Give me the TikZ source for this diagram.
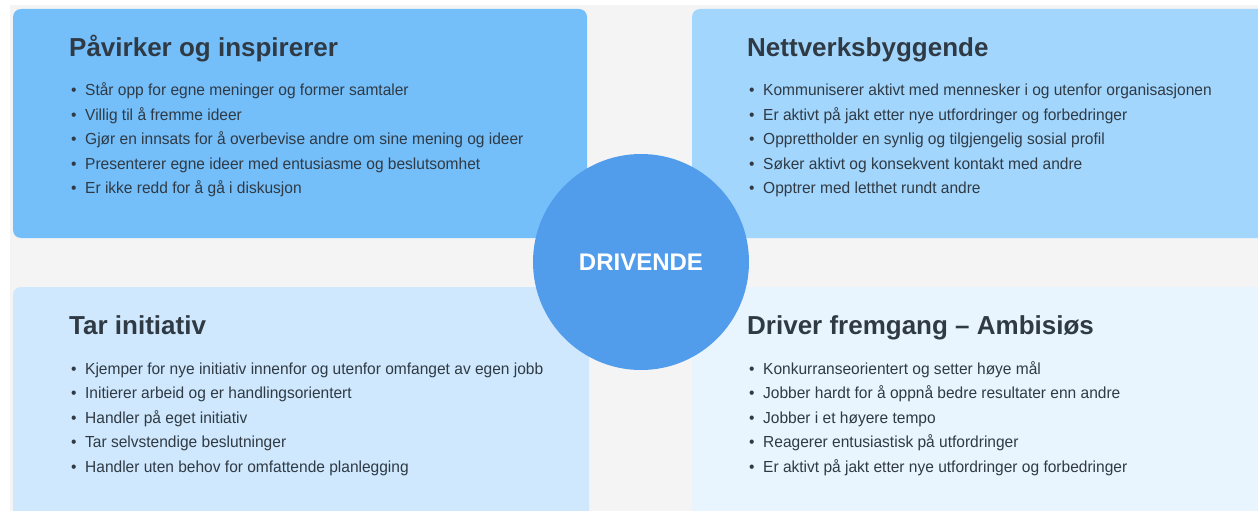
\documentclass[tikz,border=0pt]{standalone}
\usepackage{fontspec}
\setmainfont{Liberation Sans}
\newfontfamily\itemfont{Liberation Sans}[FakeStretch=0.97]
\usetikzlibrary{positioning}

\definecolor{bgGrey}{HTML}{F4F4F4}
\definecolor{tlBlue}{HTML}{74BEFA}
\definecolor{trBlue}{HTML}{A3D6FD}
\definecolor{blBlue}{HTML}{CFE8FD}
\definecolor{brBlue}{HTML}{E8F4FE}
\definecolor{hubBlue}{HTML}{519DEC}
\definecolor{inkDark}{HTML}{2F3A44}

\newcommand\pkt{\makebox[14pt][l]{\textbullet}}

\begin{document}
\begin{tikzpicture}[x=1pt,y=-1pt,
  head/.style={anchor=base west,inner sep=0pt,text=inkDark,font=\fontsize{26}{30}\selectfont\bfseries},
  item/.style={anchor=base west,inner sep=0pt,text=inkDark,font=\itemfont\fontsize{16}{20}\selectfont},
  hub/.style={circle,fill=hubBlue,minimum size=216pt,inner sep=0pt,text=white,font=\fontsize{24}{28}\selectfont\bfseries}]
\clip (0,0) rectangle (1258,511);
\fill[white] (0,0) rectangle (1258,511);
\fill[bgGrey] (10,5) rectangle (1258,511);

\fill[tlBlue, rounded corners=8pt] (13,9) rectangle (587,238);
\fill[trBlue, rounded corners=8pt] (692,9) rectangle (1275,238);
\fill[blBlue, rounded corners=8pt] (13,287) rectangle (589,525);
\fill[brBlue] (692,287) rectangle (1275,525);

\node[hub] (drivende) at (641,262) {DRIVENDE};

\node[head] (tltitle) at (69,56.7) {Påvirker og inspirerer};
\node[head] (trtitle) at (747,56.7) {Nettverksbyggende};
\node[head] (bltitle) at (69,334.3) {Tar initiativ};
\node[head] (brtitle) at (747,334.3) {Driver fremgang – Ambisiøs};

\foreach \t [count=\i] in {Står opp for egne meninger og former samtaler,
    Villig til å fremme ideer,
    Gjør en innsats for å overbevise andre om sine mening og ideer,
    Presenterer egne ideer med entusiasme og beslutsomhet,
    Er ikke redd for å gå i diskusjon}
  \node[item] (tl\i) at (71,{95.5+24.5*(\i-1)}) {\pkt\t};

\foreach \t [count=\i] in {Kommuniserer aktivt med mennesker i og utenfor organisasjonen,
    Er aktivt på jakt etter nye utfordringer og forbedringer,
    Opprettholder en synlig og tilgjengelig sosial profil,
    Søker aktivt og konsekvent kontakt med andre,
    Opptrer med letthet rundt andre}
  \node[item] (tr\i) at (749,{95.5+24.5*(\i-1)}) {\pkt\t};

\foreach \t [count=\i] in {Kjemper for nye initiativ innenfor og utenfor omfanget av egen jobb,
    Initierer arbeid og er handlingsorientert,
    Handler på eget initiativ,
    Tar selvstendige beslutninger,
    Handler uten behov for omfattende planlegging}
  \node[item] (bl\i) at (71,{374+24.5*(\i-1)}) {\pkt\t};

\foreach \t [count=\i] in {Konkurranseorientert og setter høye mål,
    Jobber hardt for å oppnå bedre resultater enn andre,
    Jobber i et høyere tempo,
    Reagerer entusiastisk på utfordringer,
    Er aktivt på jakt etter nye utfordringer og forbedringer}
  \node[item] (br\i) at (749,{374+24.5*(\i-1)}) {\pkt\t};
\end{tikzpicture}
\end{document}
